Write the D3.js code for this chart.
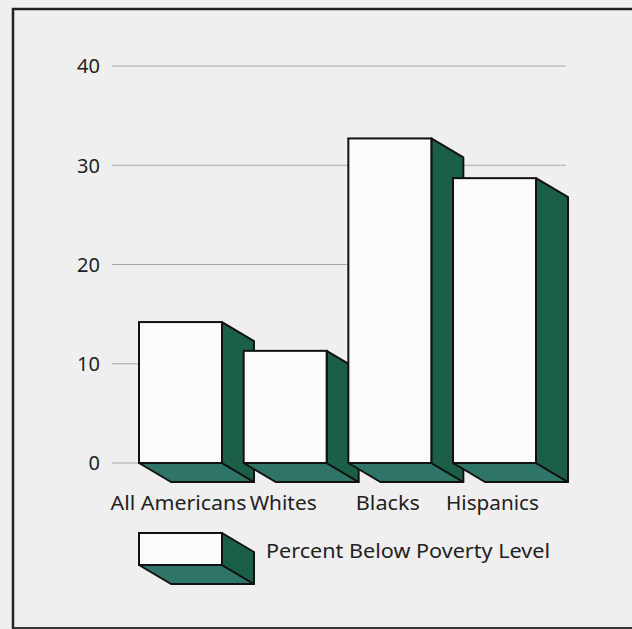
<!DOCTYPE html>
<html><head><meta charset="utf-8">
<script src="https://cdn.jsdelivr.net/npm/d3@7"></script>
<style>
html,body{margin:0;padding:0;background:#efefef;}
svg{display:block;}
</style></head>
<body>
<script>
const categories = ["All Americans", "Whites", "Blacks", "Hispanics"];
const values = [14.2, 11.3, 32.7, 28.7];
const tickValues = [0, 10, 20, 30, 40];
const legendLabel = "Percent Below Poverty Level";

const W = 632, H = 629;
const svg = d3.select("body").append("svg").attr("width", W).attr("height", H);
svg.append("rect").attr("width", W).attr("height", H).attr("fill", "#efefef");

// frame
svg.append("path").attr("d", `M13,632 L13,9 L632,9`).attr("fill","none").attr("stroke","#222").attr("stroke-width",2.5);
svg.append("line").attr("x1",13).attr("x2",632).attr("y1",628).attr("y2",628).attr("stroke","#333").attr("stroke-width",2);

const y = d3.scaleLinear().domain([0, 40]).range([463, 66]);
const x = d3.scaleBand().domain(categories).range([139, 536]).paddingInner(0.207).paddingOuter(0);
const dx = 32, dy = 19;
const font = "'Noto Sans', 'DejaVu Sans', sans-serif";

// gridlines
svg.append("g").selectAll("line").data(tickValues).join("line")
  .attr("x1", 112).attr("x2", d => d >= 20 ? 566 : 139)
  .attr("y1", d => y(d)).attr("y2", d => y(d))
  .attr("stroke", "#a8a8a8").attr("stroke-width", 1);

// y axis labels
const yAxis = d3.axisLeft(y).tickValues(tickValues).tickSize(0).tickPadding(0);
const ga = svg.append("g").attr("transform", "translate(100,0)").call(yAxis);
ga.select(".domain").remove();
ga.selectAll("text").attr("font-family", font).attr("font-size", 20).attr("fill", "#222").attr("dy", "0.34em");

const sideColor = "#1c5f48", bottomColor = "#2e7567", frontColor = "#fbfbfb";

function box(g, x0, x1, yTop, yBase) {
  g.append("polygon")
    .attr("points", [[x0,yBase],[x1,yBase],[x1+dx,yBase+dy],[x0+dx,yBase+dy]].join(" "))
    .attr("fill", bottomColor).attr("stroke", "#111").attr("stroke-width", 2).attr("stroke-linejoin","round");
  g.append("polygon")
    .attr("points", [[x1,yTop],[x1+dx,yTop+dy],[x1+dx,yBase+dy],[x1,yBase]].join(" "))
    .attr("fill", sideColor).attr("stroke", "#111").attr("stroke-width", 2).attr("stroke-linejoin","round");
  g.append("rect")
    .attr("x", x0).attr("y", yTop).attr("width", x1 - x0).attr("height", yBase - yTop)
    .attr("fill", frontColor).attr("stroke", "#111").attr("stroke-width", 2);
}

const bars = svg.append("g");
categories.forEach((c, i) => {
  const g = bars.append("g");
  box(g, x(c), x(c) + x.bandwidth(), y(values[i]), y(0));
});

// category labels
const labelWidths = [136, 67, 64, 93];
svg.append("g").selectAll("text").data(categories).join("text")
  .attr("x", d => x(d) + x.bandwidth() / 2 - 2)
  .attr("y", 510)
  .attr("text-anchor", "middle")
  .attr("font-family", font).attr("font-size", 19).attr("fill", "#222")
  .attr("textLength", (d, i) => labelWidths[i]).attr("lengthAdjust", "spacingAndGlyphs")
  .text(d => d);

// legend
const lg = svg.append("g");
box(lg, 139, 222, 533, 565);
lg.append("text").attr("x", 266).attr("y", 558)
  .attr("font-family", font).attr("font-size", 20).attr("fill", "#222")
  .attr("textLength", 284).attr("lengthAdjust", "spacingAndGlyphs")
  .text(legendLabel);
</script>
</body></html>
